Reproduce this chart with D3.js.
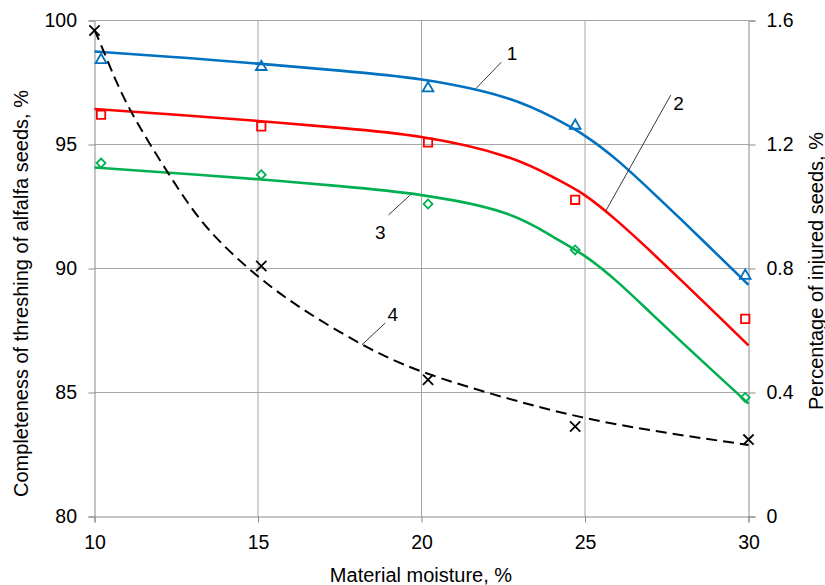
<!DOCTYPE html>
<html>
<head>
<meta charset="utf-8">
<script src="https://cdn.jsdelivr.net/npm/d3@7"></script>
<style>
  html, body { margin: 0; padding: 0; background: #fff; }
  svg { display: block; }
  text { font-family: "Liberation Sans", Arial, sans-serif; fill: #000; }
</style>
</head>
<body>
<svg id="chart" width="825" height="585"></svg>
<script>
// ---------- data ----------
const xTicks = [10, 15, 20, 25, 30];
const yTicksLeft = [80, 85, 90, 95, 100];
const yTicksRight = [0, 0.4, 0.8, 1.2, 1.6];

// experimental points
const moisture = [10.2, 15.1, 20.2, 24.7, 29.9];
const threshing1 = [98.45, 98.17, 97.31, 95.8, 89.75];
const threshing2 = [96.2, 95.73, 95.08, 92.77, 87.97];
const threshing3 = [94.25, 93.78, 92.6, 90.75, 84.8];
const moistureInjured = [10.0, 15.1, 20.2, 24.7, 30.0];
const injured = [1.568, 0.808, 0.441, 0.29, 0.248];

// fitted (trend) curves
const fitMoisture = [10, 12.5, 15, 17.5, 20, 22.5, 24, 25, 26, 27, 28, 29, 30];
const fit1 = [98.75, 98.52, 98.26, 97.98, 97.62, 96.92, 96.1, 95.35, 94.35, 93.15, 91.9, 90.62, 89.34];
const fit2 = [96.43, 96.2, 95.95, 95.67, 95.3, 94.55, 93.7, 92.95, 91.9, 90.7, 89.45, 88.18, 86.9];
const fit3 = [94.07, 93.84, 93.6, 93.32, 92.96, 92.26, 91.3, 90.5, 89.45, 88.22, 86.98, 85.76, 84.55];
const fitMoistureInjured = [10, 10.4, 11.1, 12.3, 13.5, 15, 16.5, 18.2, 20, 22.5, 25, 27.5, 30];
const fit4 = [1.57, 1.47, 1.31, 1.1, 0.925, 0.775, 0.66, 0.554, 0.468, 0.385, 0.318, 0.27, 0.231];

const curveLabels = ["1", "2", "3", "4"];

// ---------- layout ----------
const svg = d3.select("#chart");
const X0 = 94.5, X1 = 748.5, Y0 = 516.5, Y1 = 20.5;
const x = d3.scaleLinear().domain([10, 30]).range([X0, X1]);
const y = d3.scaleLinear().domain([80, 100]).range([Y0, Y1]);
const yR = d3.scaleLinear().domain([0, 1.6]).range([Y0, Y1]);

const gridColor = "#a6a6a6";
const axisColor = "#8c8c8c";

// gridlines
svg.append("g").selectAll("line").data(yTicksLeft.slice(1)).join("line")
  .attr("x1", X0).attr("x2", X1)
  .attr("y1", d => y(d)).attr("y2", d => y(d))
  .attr("stroke", gridColor).attr("stroke-width", 1);
svg.append("g").selectAll("line").data(xTicks.slice(1, -1)).join("line")
  .attr("x1", d => x(d)).attr("x2", d => x(d))
  .attr("y1", Y0).attr("y2", Y1)
  .attr("stroke", gridColor).attr("stroke-width", 1);

// axes
function styleAxis(g) {
  g.selectAll(".domain").attr("stroke", axisColor).attr("stroke-width", 1);
  g.selectAll(".tick line").attr("stroke", axisColor).attr("stroke-width", 1);
  g.selectAll(".tick text").attr("font-size", "19.5px").attr("fill", "#000")
    .attr("font-family", "'Liberation Sans', Arial, sans-serif");
}
svg.append("g").attr("transform", `translate(${X0},0)`)
  .call(d3.axisLeft(y).tickValues(yTicksLeft).tickSizeOuter(0).tickSize(6).tickPadding(11.5))
  .call(styleAxis);
svg.append("g").attr("transform", `translate(${X1},0)`)
  .call(d3.axisRight(yR).tickValues(yTicksRight).tickFormat(d3.format("")).tickSizeOuter(0).tickSize(7).tickPadding(11))
  .call(styleAxis);
svg.append("g").attr("transform", `translate(0,${Y0})`)
  .call(d3.axisBottom(x).tickValues(xTicks).tickSizeOuter(0).tickSize(6).tickPadding(12.5))
  .call(styleAxis);

// axis titles
svg.append("text").attr("x", (X0 + X1) / 2 - 0.5).attr("y", 582)
  .attr("text-anchor", "middle").attr("font-size", "20px")
  .text("Material moisture, %");
svg.append("text").attr("transform", "translate(28,293.5) rotate(-90)")
  .attr("text-anchor", "middle").attr("font-size", "20px")
  .text("Completeness of threshing of alfalfa seeds, %");
svg.append("text").attr("transform", "translate(822.5,271) rotate(-90)")
  .attr("text-anchor", "middle").attr("font-size", "20px")
  .text("Percentage of injured seeds, %");

// curves
const colors = ["#0070c0", "#ff0000", "#00b050"];
const lineL = d3.line().curve(d3.curveNatural).x(d => x(d[0])).y(d => y(d[1]));
const lineR = d3.line().curve(d3.curveNatural).x(d => x(d[0])).y(d => yR(d[1]));
[fit1, fit2, fit3].forEach((f, i) => {
  svg.append("path").datum(fitMoisture.map((m, j) => [m, f[j]]))
    .attr("d", lineL).attr("fill", "none")
    .attr("stroke", colors[i]).attr("stroke-width", 2.6);
});
svg.append("path").datum(fitMoistureInjured.map((m, j) => [m, fit4[j]]))
  .attr("d", lineR).attr("fill", "none")
  .attr("stroke", "#000").attr("stroke-width", 2).attr("stroke-dasharray", "11,6");

// markers
const symTri = d3.symbol().type(d3.symbolTriangle).size(50);
const symSq = d3.symbol().type(d3.symbolSquare).size(70);
const symDia = d3.symbol().type(d3.symbolSquare).size(40);
const symX = d3.symbol().type(d3.symbolX).size(70);

svg.append("g").selectAll("path").data(moisture.map((m, i) => [m, threshing1[i]])).join("path")
  .attr("d", symTri).attr("transform", d => `translate(${x(d[0])},${y(d[1]) + 1})`)
  .attr("fill", "none").attr("stroke", colors[0]).attr("stroke-width", 1.8);
svg.append("g").selectAll("path").data(moisture.map((m, i) => [m, threshing2[i]])).join("path")
  .attr("d", symSq).attr("transform", d => `translate(${x(d[0])},${y(d[1])})`)
  .attr("fill", "none").attr("stroke", colors[1]).attr("stroke-width", 1.8);
svg.append("g").selectAll("path").data(moisture.map((m, i) => [m, threshing3[i]])).join("path")
  .attr("d", symDia).attr("transform", d => `translate(${x(d[0])},${y(d[1])}) rotate(45)`)
  .attr("fill", "none").attr("stroke", colors[2]).attr("stroke-width", 1.8);
svg.append("g").selectAll("path").data(moistureInjured.map((m, i) => [m, injured[i]])).join("path")
  .attr("d", symX).attr("transform", d => `translate(${x(d[0])},${yR(d[1])})`)
  .attr("fill", "none").attr("stroke", "#000").attr("stroke-width", 1.8);

// leader lines and curve numbers (anchored to data positions)
const leaders = [
  { label: curveLabels[0], from: [x(21.66), y(97.25)], to: [x(22.44), y(98.32)], tx: x(22.77), ty: y(98.42) },
  { label: curveLabels[1], from: [x(25.64), y(92.33)], to: [x(27.62), y(96.99)], tx: x(27.86), ty: y(96.4) },
  { label: curveLabels[2], from: [x(19.66), y(92.97)], to: [x(18.99), y(92.16)], tx: x(18.74), ty: y(91.2) },
  { label: curveLabels[3], from: [x(18.18), yR(0.554)], to: [x(18.89), yR(0.624)], tx: x(19.12), ty: yR(0.632) }
];
leaders.forEach(l => {
  svg.append("line").attr("x1", l.from[0]).attr("y1", l.from[1])
    .attr("x2", l.to[0]).attr("y2", l.to[1])
    .attr("stroke", "#3a3a3a").attr("stroke-width", 1);
  svg.append("text").attr("x", l.tx).attr("y", l.ty)
    .attr("text-anchor", "middle").attr("font-size", "19px").text(l.label);
});
</script>
</body>
</html>
